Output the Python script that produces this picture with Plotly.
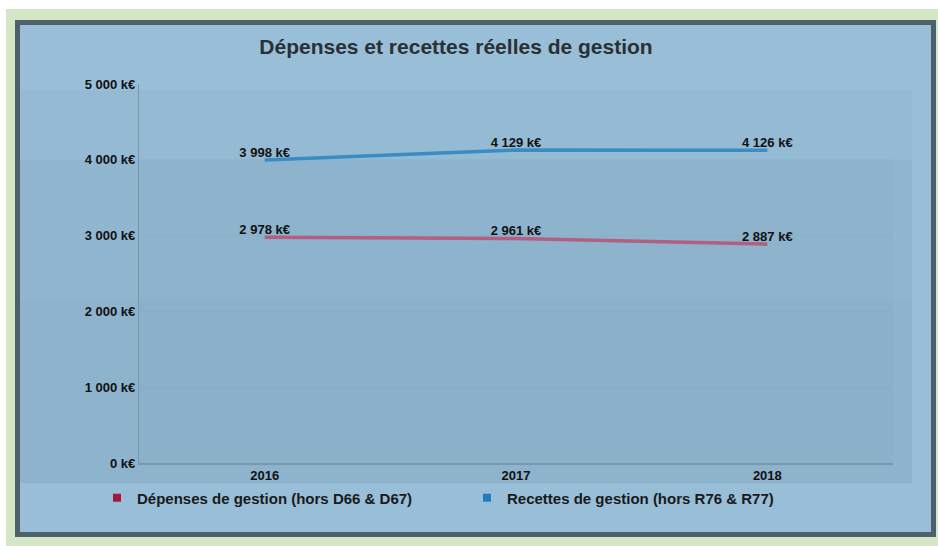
import plotly.graph_objects as go

years = ["2016", "2017", "2018"]
depenses = [2978, 2961, 2887]
recettes = [3998, 4129, 4126]
y_ticks = [0, 1000, 2000, 3000, 4000, 5000]
name_dep = "Dépenses de gestion (hors D66 & D67)"
name_rec = "Recettes de gestion (hors R76 & R77)"
title = "Dépenses et recettes réelles de gestion"

W, H = 938, 546
L, R, T, B = 139, 893, 84, 463


def fmt(v):
    return f"{v:,}".replace(",", " ") + " k€"


def xp(px):
    return (px - L) / (R - L)


def yp(py):
    return (B - py) / (B - T)


FONT = "Liberation Sans, Arial, sans-serif"
col_dep_line = "#b35f80"
col_rec_line = "#3a8cc4"
col_dep_leg = "#a3183f"
col_rec_leg = "#1f7cc0"

fig = go.Figure()
fig.add_trace(go.Scatter(
    x=years, y=depenses, mode="lines+text", text=[fmt(v) for v in depenses],
    textposition="top center", textfont=dict(family=FONT, size=13, color="#111", weight="bold"),
    line=dict(color=col_dep_line, width=3.5), showlegend=False, hoverinfo="skip"))
fig.add_trace(go.Scatter(
    x=years, y=recettes, mode="lines+text", text=[fmt(v) for v in recettes],
    textposition="top center", textfont=dict(family=FONT, size=13, color="#111", weight="bold"),
    line=dict(color=col_rec_line, width=3.5), showlegend=False, hoverinfo="skip"))
# legend entries (square markers)
fig.add_trace(go.Scatter(x=[None], y=[None], mode="markers", name=name_dep,
                         marker=dict(symbol="square", size=8, color=col_dep_leg)))
fig.add_trace(go.Scatter(x=[None], y=[None], mode="markers", name=name_rec,
                         marker=dict(symbol="square", size=8, color=col_rec_leg)))

shapes = [
    # outer green background
    dict(type="rect", xref="paper", yref="paper", x0=xp(6), x1=xp(938), y0=yp(9), y1=yp(546),
         fillcolor="#d4e6c5", line=dict(width=0), layer="below"),
    # panel with dark frame
    dict(type="rect", xref="paper", yref="paper", x0=xp(17.5), x1=xp(933.5), y0=yp(22.5), y1=yp(534.5),
         fillcolor="#98bed8", line=dict(color="#4e606b", width=5), layer="below"),
    # chart area shading
    dict(type="rect", xref="paper", yref="paper", x0=xp(20), x1=xp(912), y0=yp(90), y1=yp(483),
         fillcolor="rgba(60,95,125,0.035)", line=dict(width=0), layer="below"),
    dict(type="rect", xref="paper", yref="paper", x0=xp(20), x1=xp(912), y0=yp(160), y1=yp(483),
         fillcolor="rgba(60,95,125,0.04)", line=dict(width=0), layer="below"),
    dict(type="rect", xref="paper", yref="paper", x0=xp(139), x1=xp(893), y0=yp(160), y1=yp(463),
         fillcolor="rgba(60,95,125,0.03)", line=dict(width=0), layer="below"),
    dict(type="rect", xref="paper", yref="paper", x0=xp(20), x1=xp(912), y0=yp(300), y1=yp(483),
         fillcolor="rgba(60,95,125,0.03)", line=dict(width=0), layer="below"),
]

fig.update_layout(
    width=W, height=H,
    margin=dict(l=L, r=W - R, t=T, b=H - B),
    paper_bgcolor="white", plot_bgcolor="rgba(0,0,0,0)",
    font=dict(family=FONT, color="#111"),
    title=dict(text=title, x=456 / W, xanchor="center", y=1 - 47 / H, yanchor="middle",
               font=dict(family=FONT, size=21, color="#2b3034", weight="bold")),
    shapes=shapes,
    showlegend=True,
    legend=dict(orientation="h", x=xp(97), xanchor="left", y=yp(498), yanchor="middle",
                bgcolor="rgba(0,0,0,0)", font=dict(family=FONT, size=15, color="#1a1a1a", weight="bold"),
                entrywidth=325, entrywidthmode="pixels", itemwidth=30),
    xaxis=dict(type="category", range=[-0.5, 2.5], showgrid=False, zeroline=False,
               showline=True, linecolor="#7a98ac", linewidth=1.5,
               tickfont=dict(family=FONT, size=13, color="#111", weight="bold"), ticks=""),
    yaxis=dict(range=[0, 5000], tickvals=y_ticks, ticktext=[fmt(v) for v in y_ticks],
               showgrid=True, gridcolor="rgba(110,145,170,0.10)", zeroline=False,
               showline=True, linecolor="#7a98ac", linewidth=1.2,
               tickfont=dict(family=FONT, size=13, color="#111", weight="bold"), ticks=""),
)

fig.write_html("out.html", config={"displayModeBar": False},
               post_script="document.body.style.margin='0';")
